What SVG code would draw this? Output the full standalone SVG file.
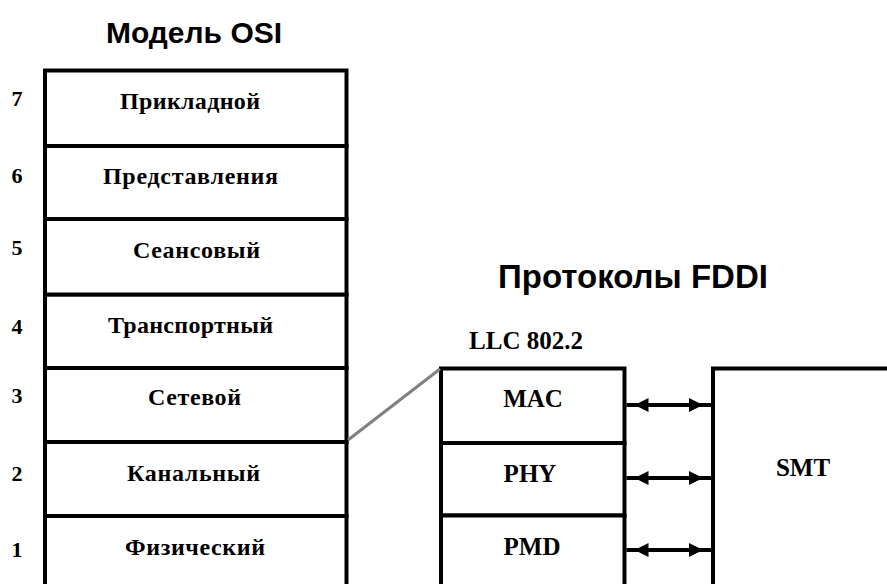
<svg xmlns="http://www.w3.org/2000/svg" width="887" height="584" viewBox="0 0 887 584">
<style>
.box{fill:#fff;stroke:#000;stroke-width:4}
.lbl{font-family:"Liberation Serif","Times New Roman",serif;font-weight:bold;font-size:24px;text-anchor:middle;fill:#000}
.num{font-family:"Liberation Serif","Times New Roman",serif;font-weight:bold;font-size:22px;text-anchor:middle;fill:#000}
.fl{font-family:"Liberation Serif","Times New Roman",serif;font-weight:bold;font-size:25px;text-anchor:middle;fill:#000}
.title{font-family:"Liberation Sans",Arial,sans-serif;font-weight:bold;text-anchor:middle;fill:#000}
.arrow{stroke:#000;stroke-width:4;fill:none;marker-start:url(#ah);marker-end:url(#ah)}
</style>
<defs>
<marker id="ah" viewBox="0 0 24 16" markerUnits="userSpaceOnUse" markerWidth="24" markerHeight="16" refX="24" refY="8" orient="auto-start-reverse">
<path d="M2,1 L16,8 L2,15 Z" fill="#000"/>
</marker>
</defs>
<rect width="887" height="584" fill="#fff"/>
<text class="title" x="194" y="43" font-size="30">Модель OSI</text>
<text class="title" x="633" y="288" font-size="33">Протоколы FDDI</text>

<g id="osi7"><rect class="box" x="45" y="70.5" width="301.5" height="75.5"/><text class="num" x="17" y="106">7</text><text class="lbl" x="190" y="109" textLength="140">Прикладной</text></g>
<g id="osi6"><rect class="box" x="45" y="146" width="301.5" height="73"/><text class="num" x="17" y="183">6</text><text class="lbl" x="190.5" y="184" textLength="175">Представления</text></g>
<g id="osi5"><rect class="box" x="45" y="219" width="301.5" height="75.7"/><text class="num" x="17" y="255">5</text><text class="lbl" x="196.5" y="258" textLength="127">Сеансовый</text></g>
<g id="osi4"><rect class="box" x="45" y="294.7" width="301.5" height="73.3"/><text class="num" x="17" y="334">4</text><text class="lbl" x="190.5" y="333" textLength="165">Транспортный</text></g>
<g id="osi3"><rect class="box" x="45" y="368" width="301.5" height="74"/><text class="num" x="17" y="403">3</text><text class="lbl" x="194.5" y="405" textLength="93">Сетевой</text></g>
<g id="osi2"><rect class="box" x="45" y="442" width="301.5" height="74"/><text class="num" x="17" y="481">2</text><text class="lbl" x="193.5" y="481" textLength="133">Канальный</text></g>
<g id="osi1"><rect class="box" x="45" y="516" width="301.5" height="90"/><text class="num" x="17" y="557">1</text><text class="lbl" x="195" y="555" textLength="140">Физический</text></g>

<text class="fl" x="526" y="349">LLC 802.2</text>
<g id="mac"><rect class="box" x="441" y="368.5" width="183.5" height="74.5"/><text class="fl" x="533" y="407">MAC</text></g>
<g id="phy"><rect class="box" x="441" y="443" width="183.5" height="72.5"/><text class="fl" x="530" y="482">PHY</text></g>
<g id="pmd"><rect class="box" x="441" y="515.5" width="183.5" height="90"/><text class="fl" x="532" y="555">PMD</text></g>
<g id="smt"><rect class="box" x="713" y="368.5" width="200" height="240"/><text class="fl" x="803" y="476">SMT</text></g>

<g id="connectors">
<line x1="348" y1="440" x2="440" y2="369" stroke="#808080" stroke-width="3"/>
<line class="arrow" x1="626.5" y1="405" x2="711" y2="405"/>
<line class="arrow" x1="626.5" y1="478" x2="711" y2="478"/>
<line class="arrow" x1="626.5" y1="550" x2="711" y2="550"/>
</g>
</svg>
